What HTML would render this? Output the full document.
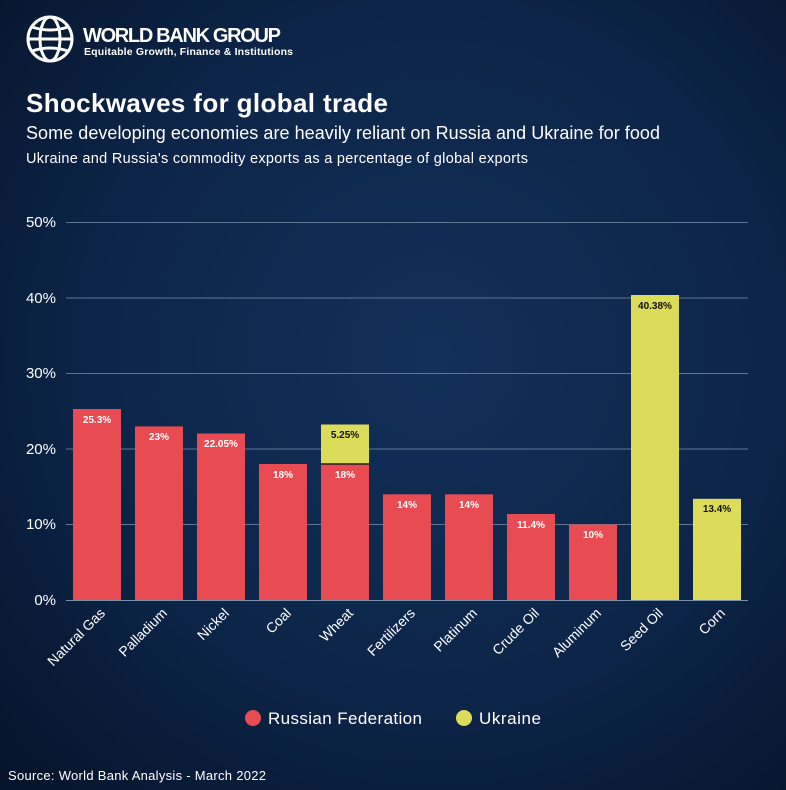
<!DOCTYPE html>
<html><head><meta charset="utf-8"><style>
body{margin:0;width:786px;height:790px;overflow:hidden;background:#0b2244;}
svg{display:block}
</style></head><body>
<svg width="786" height="790" xmlns="http://www.w3.org/2000/svg" font-family="Liberation Sans, sans-serif">
<defs>
<radialGradient id="bg" cx="55%" cy="45%" r="75%">
<stop offset="0" stop-color="#13305a"/><stop offset="0.6" stop-color="#0c2447"/><stop offset="1" stop-color="#06152c"/>
</radialGradient>
</defs>
<rect width="786" height="790" fill="url(#bg)"/>
<g stroke="#fff" stroke-width="3" fill="none">
<circle cx="50" cy="39" r="22"/>
<ellipse cx="50" cy="39" rx="10" ry="22"/>
<line x1="28" y1="39" x2="72" y2="39"/>
<path d="M32 27 Q50 33 68 27"/><path d="M32 51 Q50 45 68 51"/>
</g>
<text x="83" y="42" fill="#fff" font-size="20" font-weight="bold" textLength="198">WORLD BANK GROUP</text>
<text x="84" y="55" fill="#fff" font-size="10.5" font-weight="bold" textLength="209">Equitable Growth, Finance &amp; Institutions</text>
<text x="26" y="112" fill="#fff" font-size="26" font-weight="bold" textLength="362">Shockwaves for global trade</text>
<text x="26" y="139" fill="#fff" font-size="18" textLength="634">Some developing economies are heavily reliant on Russia and Ukraine for food</text>
<text x="26" y="163" fill="#fff" font-size="14.5" textLength="502">Ukraine and Russia's commodity exports as a percentage of global exports</text>
<g stroke="#5f7796" stroke-width="1">
<line x1="66" y1="222.5" x2="748" y2="222.5"/>
<line x1="66" y1="298" x2="748" y2="298"/>
<line x1="66" y1="373.5" x2="748" y2="373.5"/>
<line x1="66" y1="449" x2="748" y2="449"/>
<line x1="66" y1="524.5" x2="748" y2="524.5"/>
</g>
<g fill="#fff" font-size="15" text-anchor="end">
<text x="56" y="227">50%</text><text x="56" y="303">40%</text><text x="56" y="378">30%</text>
<text x="56" y="454">20%</text><text x="56" y="529">10%</text><text x="56" y="605">0%</text>
</g>
<g fill="#e84c52">
<rect x="73" y="409" width="48" height="191"/>
<rect x="135" y="426.4" width="48" height="173.6"/>
<rect x="197" y="433.5" width="48" height="166.5"/>
<rect x="259" y="464" width="48" height="136"/>
<rect x="321" y="464" width="48" height="136"/>
<rect x="383" y="494.3" width="48" height="105.7"/>
<rect x="445" y="494.3" width="48" height="105.7"/>
<rect x="507" y="514" width="48" height="86"/>
<rect x="569" y="524.5" width="48" height="75.5"/>
</g>
<g fill="#dcdc5a">
<rect x="321" y="424.5" width="48" height="39.5"/>
<rect x="631" y="295" width="48" height="305"/>
<rect x="693" y="498.8" width="48" height="101.2"/>
</g>
<line x1="321" y1="464" x2="369" y2="464" stroke="#222" stroke-width="1.5"/>
<line x1="66" y1="600.5" x2="748" y2="600.5" stroke="#7d90aa" stroke-width="1"/>
<g font-size="10" font-weight="bold" text-anchor="middle" fill="#fff">
<text x="97" y="423">25.3%</text><text x="159" y="440">23%</text><text x="221" y="447">22.05%</text>
<text x="283" y="478">18%</text><text x="345" y="478">18%</text><text x="407" y="508">14%</text>
<text x="469" y="508">14%</text><text x="531" y="528">11.4%</text><text x="593" y="538">10%</text>
</g>
<g font-size="10" font-weight="bold" text-anchor="middle" fill="#111">
<text x="345" y="438">5.25%</text><text x="655" y="309">40.38%</text><text x="717" y="512">13.4%</text>
</g>
<g fill="#fff" font-size="14" text-anchor="end">
<text transform="translate(106,614) rotate(-45)">Natural Gas</text>
<text transform="translate(168,614) rotate(-45)">Palladium</text>
<text transform="translate(230,614) rotate(-45)">Nickel</text>
<text transform="translate(292,614) rotate(-45)">Coal</text>
<text transform="translate(354,614) rotate(-45)">Wheat</text>
<text transform="translate(416,614) rotate(-45)">Fertilizers</text>
<text transform="translate(478,614) rotate(-45)">Platinum</text>
<text transform="translate(540,614) rotate(-45)">Crude Oil</text>
<text transform="translate(602,614) rotate(-45)">Aluminum</text>
<text transform="translate(664,614) rotate(-45)">Seed Oil</text>
<text transform="translate(726,614) rotate(-45)">Corn</text>
</g>
<circle cx="253" cy="718" r="8" fill="#e84c52"/>
<text x="268" y="724" fill="#fff" font-size="17" textLength="154">Russian Federation</text>
<circle cx="464" cy="718" r="8" fill="#dcdc5a"/>
<text x="479" y="724" fill="#fff" font-size="17" textLength="62">Ukraine</text>
<text x="8" y="780" fill="#fff" font-size="13" textLength="258">Source: World Bank Analysis - March 2022</text>
</svg>
</body></html>
